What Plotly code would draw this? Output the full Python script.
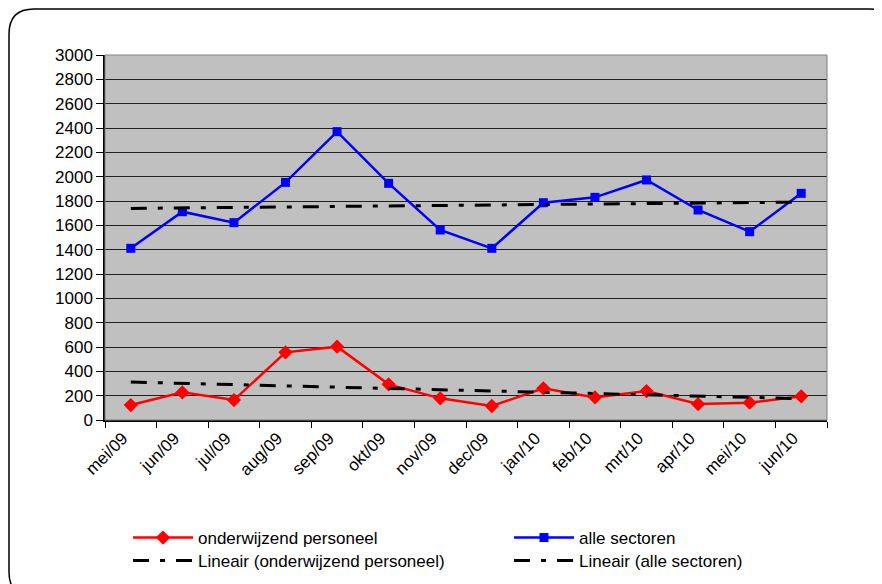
import numpy as np
import plotly.graph_objects as go

months = ["mei/09", "jun/09", "jul/09", "aug/09", "sep/09", "okt/09", "nov/09",
          "dec/09", "jan/10", "feb/10", "mrt/10", "apr/10", "mei/10", "jun/10"]
onderwijzend = [123, 227, 164, 556, 603, 293, 178, 115, 260, 186, 238, 131, 142, 195]
alle_sectoren = [1411, 1712, 1622, 1953, 2370, 1945, 1562, 1411, 1786, 1830, 1973, 1726, 1548, 1863]
y_ticks = list(range(0, 3001, 200))

# page body has an 8px default margin; work in reference-pixel coordinates and shift
OFF = 8
PAGE_W, PAGE_H = 882, 584
W, H = PAGE_W - OFF, PAGE_H - OFF
L, R, T, B = 105, 827, 55, 420  # plot area in page (reference) pixels


def px(x):
    return (x - L) / (R - L)


def py(y):
    return (B - y) / (B - T)


def trend(vals):
    idx = np.arange(len(vals))
    k, b = np.polyfit(idx, vals, 1)
    return (k * idx + b).tolist()


dash = "16px,11px,5px,11px"
font = "Liberation Sans, Arial, sans-serif"

fig = go.Figure()
fig.add_trace(go.Scatter(x=months, y=onderwijzend, name="onderwijzend personeel",
                         mode="lines+markers", line=dict(color="#FF0000", width=2.5),
                         marker=dict(symbol="diamond", size=11, color="#FF0000"),
                         legend="legend"))
fig.add_trace(go.Scatter(x=months, y=alle_sectoren, name="alle sectoren",
                         mode="lines+markers", line=dict(color="#0000FF", width=2.5),
                         marker=dict(symbol="square", size=9, color="#0000FF"),
                         legend="legend2"))
fig.add_trace(go.Scatter(x=months, y=trend(onderwijzend), name="Lineair (onderwijzend personeel)",
                         mode="lines", line=dict(color="black", width=3, dash=dash),
                         legend="legend3"))
fig.add_trace(go.Scatter(x=months, y=trend(alle_sectoren), name="Lineair (alle sectoren)",
                         mode="lines", line=dict(color="black", width=3, dash=dash),
                         legend="legend4"))

# rounded chart border
x0, y0, x1, y1, r = px(9), py(9), px(895), py(597), 25
rx, ry = r / (R - L), r / (B - T)
path = (f"M{x0},{y0 - ry} L{x0},{y1 + ry} Q{x0},{y1} {x0 + rx},{y1} "
        f"L{x1 - rx},{y1} Q{x1},{y1} {x1},{y1 + ry} L{x1},{y0 - ry} "
        f"Q{x1},{y0} {x1 - rx},{y0} L{x0 + rx},{y0} Q{x0},{y0} {x0},{y0 - ry} Z")

leg_common = dict(orientation="v", yanchor="top", xanchor="left", font=dict(size=17),
                  bgcolor="rgba(0,0,0,0)", traceorder="normal", tracegroupgap=0,
                  itemwidth=60)

fig.update_layout(
    width=W, height=H,
    margin=dict(l=L - OFF, r=PAGE_W - R, t=T - OFF, b=PAGE_H - B, autoexpand=False),
    paper_bgcolor="white", plot_bgcolor="#C0C0C0",
    font=dict(family=font, size=16, color="black"),
    showlegend=True,
    legend=dict(x=px(128), y=py(520), **leg_common),
    legend3=dict(x=px(128), y=py(543), **leg_common),
    legend2=dict(x=px(509), y=py(520), **leg_common),
    legend4=dict(x=px(509), y=py(543), **leg_common),
    shapes=[
        dict(type="rect", xref="paper", yref="paper", x0=0, y0=0, x1=1, y1=1,
             line=dict(color="#808080", width=1), layer="above"),
        dict(type="path", xref="paper", yref="paper", path=path,
             line=dict(color="black", width=1.5), layer="below"),
    ],
)
fig.update_xaxes(type="category", range=[-0.5, len(months) - 0.5], tickangle=-45,
                 tickson="boundaries", ticks="outside", ticklen=6, tickcolor="black",
                 showline=True, linecolor="black", linewidth=1.5, showgrid=False,
                 tickfont=dict(size=17), ticklabelshift=-8)
fig.update_yaxes(range=[0, 3000], tickvals=y_ticks, ticks="outside", ticklen=7,
                 tickcolor="black", showline=True, linecolor="black", linewidth=1.5,
                 showgrid=True, gridcolor="#202020", gridwidth=1, zeroline=False,
                 tickfont=dict(size=17))

fig.write_html("out.html")
